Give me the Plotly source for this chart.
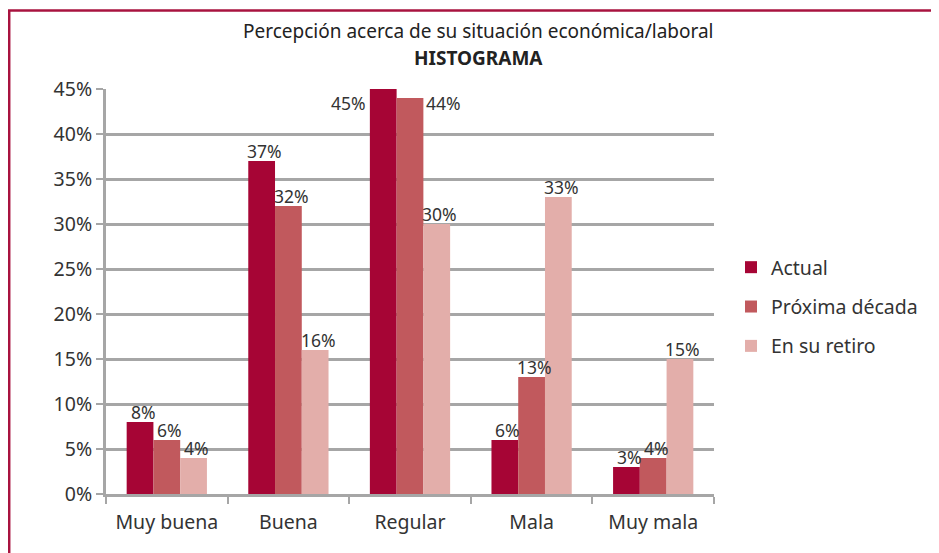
import plotly.graph_objects as go

categories = ["Muy buena", "Buena", "Regular", "Mala", "Muy mala"]
series_names = ["Actual", "Próxima década", "En su retiro"]
actual = [8, 37, 45, 6, 3]
proxima = [6, 32, 44, 13, 4]
retiro = [4, 16, 30, 33, 15]
y_ticks = [0, 5, 10, 15, 20, 25, 30, 35, 40, 45]

series_values = [actual, proxima, retiro]
colors = ["#a60535", "#c1595d", "#e3aeaa"]
FONT = "Noto Sans"
TXT = "#333333"
GRID = "#a6a6a6"
BORDER = "#a8133f"

# the page has an 8px body margin; work in screen pixels and convert
OFF = 8
W, H = 939 - OFF, 553 - OFF
left, right, top, bottom = 106, 714, 89, 494  # plot area in screen px
ml, mt = left - OFF, top - OFF
mr, mb = W - (right - OFF), H - (bottom - OFF)
pw, ph = right - left, bottom - top


def px_x(p):
    return (p - left) / pw


def px_y(p):
    return (bottom - p) / ph


fig = go.Figure()
for name, vals, col in zip(series_names, series_values, colors):
    fig.add_trace(go.Bar(
        x=categories, y=vals, name=name, marker=dict(color=col, line=dict(width=0)),
        legendgroup=name,
    ))

bargap = 0.34
bw = (1 - bargap) / 3
label_font = dict(family=FONT, size=17.5, color=TXT)
# special label placements (style): (series index, category index)
special = {(0, 2): dict(xanchor="right", dx=-bw / 2, xshift=-2, yshift=0),
           (1, 2): dict(xanchor="left", dx=bw / 2, xshift=1, yshift=9)}
annotations = []
for j, vals in enumerate(series_values):
    for i, v in enumerate(vals):
        off = (j - 1) * bw
        if (j, i) in special:
            s = special[(j, i)]
            annotations.append(dict(x=i + off + s["dx"], y=v, xref="x", yref="y",
                                    text=f"{v}%", showarrow=False, xanchor=s["xanchor"],
                                    yanchor="top", xshift=s["xshift"], yshift=s["yshift"],
                                    font=label_font))
        else:
            annotations.append(dict(x=i + off, y=v, xref="x", yref="y",
                                    text=f"{v}%", showarrow=False, xanchor="center",
                                    yanchor="bottom", yshift=-4, xshift=3,
                                    font=label_font))

title_font = dict(family=FONT, size=19, color="#222222")
annotations.append(dict(x=px_x(478), y=px_y(31), xref="paper", yref="paper",
                        text="Percepción acerca de su situación económica/laboral",
                        showarrow=False, xanchor="center", yanchor="middle", font=title_font))
annotations.append(dict(x=px_x(478), y=px_y(58), xref="paper", yref="paper",
                        text="<b>HISTOGRAMA</b>",
                        showarrow=False, xanchor="center", yanchor="middle", font=title_font))

shapes = [
    dict(type="line", xref="paper", yref="paper", x0=px_x(OFF), x1=px_x(939), y0=px_y(10.5), y1=px_y(10.5),
         line=dict(color=BORDER, width=2.5)),
    dict(type="line", xref="paper", yref="paper", x0=px_x(9.2), x1=px_x(9.2), y0=px_y(10), y1=px_y(553),
         line=dict(color=BORDER, width=2.5)),
]

fig.update_layout(
    width=W, height=H,
    margin=dict(l=ml, r=mr, t=mt, b=mb, autoexpand=False),
    paper_bgcolor="white", plot_bgcolor="white",
    barmode="group", bargap=bargap, bargroupgap=0,
    font=dict(family=FONT, color=TXT),
    xaxis=dict(
        type="category", showgrid=False, showline=True, linecolor=GRID, linewidth=3,
        ticks="outside", tickson="boundaries", ticklen=7, tickwidth=2, tickcolor=GRID,
        tickfont=dict(family=FONT, size=19.5, color=TXT), range=[-0.5, 4.5],
        ticklabelstandoff=9, automargin=False,
    ),
    yaxis=dict(
        range=[0, 45], tickvals=y_ticks, ticktext=[f"{t}%" for t in y_ticks],
        showgrid=True, gridcolor=GRID, gridwidth=2.5, zeroline=False,
        showline=True, linecolor=GRID, linewidth=3,
        ticks="outside", ticklen=7, tickwidth=2, tickcolor=GRID,
        tickfont=dict(family=FONT, size=19.5, color=TXT), automargin=False,
    ),
    legend=dict(
        x=px_x(731), xanchor="left", y=px_y(307), yanchor="middle",
        font=dict(family=FONT, size=19.5, color=TXT), tracegroupgap=11,
        bgcolor="rgba(0,0,0,0)",
    ),
    showlegend=True,
    annotations=annotations,
    shapes=shapes,
)

fig.write_html("out.html")
